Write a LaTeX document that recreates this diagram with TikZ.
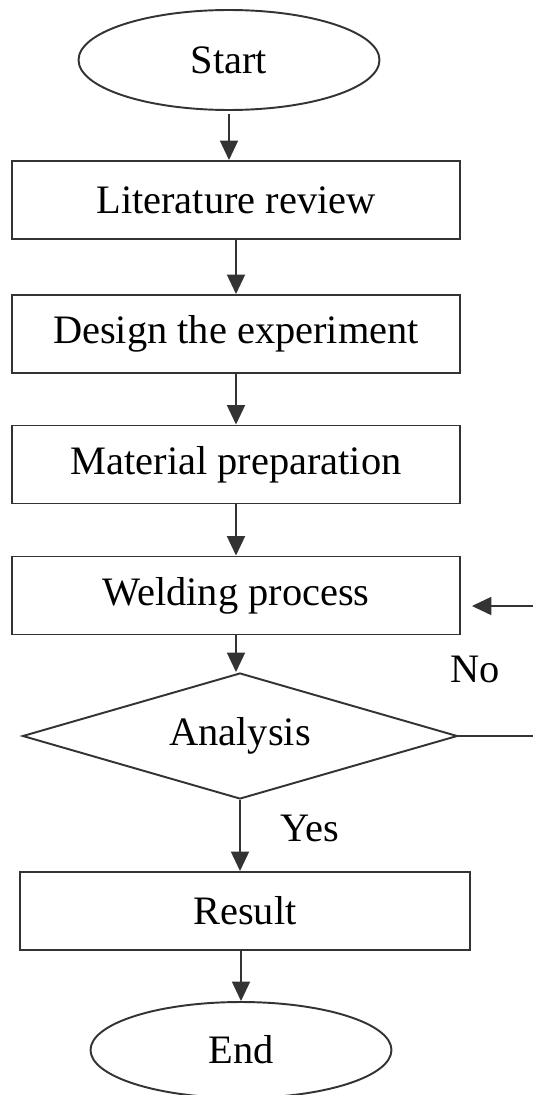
\documentclass[tikz,border=0pt]{standalone}
\usepackage{fontspec}
\setmainfont{Liberation Serif}
\usepackage{xcolor}
\usepackage{tikz}
\usetikzlibrary{arrows.meta,positioning,shapes.geometric,calc}
\definecolor{fcline}{HTML}{333333}
\tikzset{
  fterm/.style={ellipse,draw=fcline,line width=1.1pt,fill=white,inner sep=0pt,minimum width=6.02cm,minimum height=2.0cm},
  fstep/.style={rectangle,draw=fcline,line width=1.1pt,fill=white,inner sep=0pt,minimum width=8.96cm,minimum height=1.56cm},
  fdecide/.style={diamond,aspect=3.45,draw=fcline,line width=1.1pt,fill=white,inner sep=0pt,minimum width=8.7cm,minimum height=2.52cm},
  farr/.style={-{Triangle[length=3.9mm,width=3.6mm]},line width=1.1pt,draw=fcline},
  fline/.style={line width=1.1pt,draw=fcline}
}

\begin{document}
\begin{tikzpicture}[x=0.02cm,y=-0.02cm,font=\fontsize{23}{27}\selectfont]
  \useasboundingbox (0,0) rectangle (533,1095);
  \clip (0,0) rectangle (533,1095);
  \node[fterm] (start) at (229,60) {Start};
  \node[fstep] (lit) at (236,200) {Literature review};
  \node[fstep] (design) at (236,334) {Design the experiment};
  \node[fstep] (mat) at (236,464.5) {Material preparation};
  \node[fstep] (weld) at (236,595.5) {Welding process};
  \node[fdecide] (ana) at (240,736) {Analysis};
  \node[fstep,minimum width=9.0cm] (res) at (245,911) {Result};
  \node[fterm,minimum height=1.92cm] (fin) at (241,1050) {End};
  \node (no) at (475,669) {No};
  \node (yes) at (310,828) {Yes};
  \coordinate (loopR) at (545,606);
  \draw[farr,shorten <=0.06cm] (start.south) -- (start.south |- lit.north);
  \draw[farr] (lit) -- (design); \draw[farr] (design) -- (mat); \draw[farr] (mat) -- (weld);
  \draw[farr] (weld.south) -- (weld.south |- ana.north);
  \draw[farr] (ana.south) -- (ana.south |- res.north);
  \draw[farr] (res.south -| fin.north) -- (fin.north);
  \draw[farr,shorten >=0.22cm] (ana.east) -| (loopR) -- (weld.east |- loopR);
\end{tikzpicture}
\end{document}
